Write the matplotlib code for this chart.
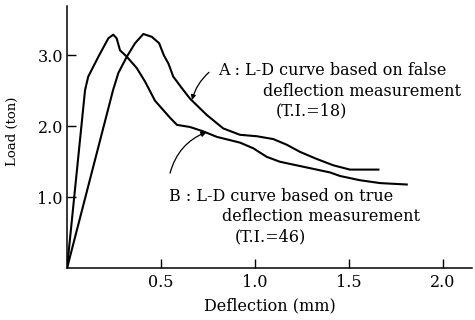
import matplotlib
matplotlib.use("Agg")
import matplotlib.pyplot as plt

# Curve A: L-D curve based on false deflection measurement (T.I.=18)
a_defl = [0, 0.245, 0.273, 0.318, 0.362, 0.406, 0.451, 0.49, 0.515, 0.54, 0.565,
          0.61, 0.654, 0.743, 0.831, 0.920, 1.009, 1.097, 1.169, 1.239, 1.328,
          1.417, 1.505, 1.656]
a_load = [0, 2.51, 2.75, 2.98, 3.17, 3.30, 3.26, 3.17, 3.00, 2.88, 2.70,
          2.54, 2.39, 2.16, 1.97, 1.88, 1.86, 1.82, 1.74, 1.64, 1.54,
          1.45, 1.39, 1.39]

# Curve B: L-D curve based on true deflection measurement (T.I.=46)
b_defl = [0, 0.096, 0.113, 0.167, 0.22, 0.246, 0.264, 0.282, 0.318, 0.371, 0.415,
          0.468, 0.548, 0.585, 0.654, 0.723, 0.798, 0.920, 0.991, 1.062, 1.133,
          1.275, 1.399, 1.452, 1.559, 1.665, 1.807]
b_load = [0, 2.51, 2.70, 2.98, 3.24, 3.29, 3.24, 3.07, 2.98, 2.82, 2.63,
          2.36, 2.12, 2.02, 1.99, 1.93, 1.85, 1.77, 1.69, 1.57, 1.50,
          1.42, 1.35, 1.30, 1.24, 1.20, 1.18]

x_ticks = [0.5, 1.0, 1.5, 2.0]
x_ticklabels = ["0.5", "1.0", "1.5", "2.0"]
y_ticks = [1.0, 2.0, 3.0]
y_ticklabels = ["1.0", "2.0", "3.0"]

label_a = ["A : L-D curve based on false", "deflection measurement", "(T.I.=18)"]
label_b = ["B : L-D curve based on true", "deflection measurement", "(T.I.=46)"]

plt.rcParams['font.family'] = ['DejaVu Serif']

fig = plt.figure(figsize=(4.75, 3.2), dpi=100)
ax = fig.add_axes([67/475, 1 - 268.3/320, (472-67)/475, (268.3-6)/320])

ax.plot(a_defl, a_load, color='black', lw=1.5, solid_joinstyle='round')
ax.plot(b_defl, b_load, color='black', lw=1.5, solid_joinstyle='round')

ax.set_xlim(0, 2.154)
ax.set_ylim(0, 3.694)
for s in ['top', 'right']:
    ax.spines[s].set_visible(False)
for s in ['left', 'bottom']:
    ax.spines[s].set_linewidth(1.1)

ax.set_xticks(x_ticks)
ax.set_xticklabels(x_ticklabels)
ax.set_yticks(y_ticks)
ax.set_yticklabels(y_ticklabels)
ax.tick_params(direction='in', length=6.5, width=1.0, labelsize=11.5, pad=4)
ax.tick_params(axis='y', pad=3)

ax.set_xlabel("Deflection (mm)", fontsize=11.5, labelpad=5)
ax.set_ylabel("Load (ton)", fontsize=9.5)
ax.yaxis.set_label_coords(-0.118, 0.523)

fs = 11.5
ax.text(1.412, 2.79, label_a[0], fontsize=fs, va='center', ha='center')
ax.text(1.044, 2.49, label_a[1], fontsize=fs, va='center', ha='left')
ax.text(1.112, 2.21, label_a[2], fontsize=fs, va='center', ha='left')
ax.text(1.137, 1.01, label_b[0], fontsize=fs, va='center', ha='center')
ax.text(0.823, 0.727, label_b[1], fontsize=fs, va='center', ha='left')
ax.text(0.894, 0.445, label_b[2], fontsize=fs, va='center', ha='left')

ax.annotate("", xy=(0.665, 2.37), xytext=(0.755, 2.76),
            arrowprops=dict(arrowstyle='-|>', color='black', lw=0.9,
                            mutation_scale=7, connectionstyle='arc3,rad=0.15',
                            shrinkA=0, shrinkB=0))
ax.annotate("", xy=(0.743, 1.92), xytext=(0.548, 1.34),
            arrowprops=dict(arrowstyle='-|>', color='black', lw=0.9,
                            mutation_scale=8, connectionstyle='arc3,rad=-0.25',
                            shrinkA=0, shrinkB=0))

fig.savefig("out.png", dpi=100)
